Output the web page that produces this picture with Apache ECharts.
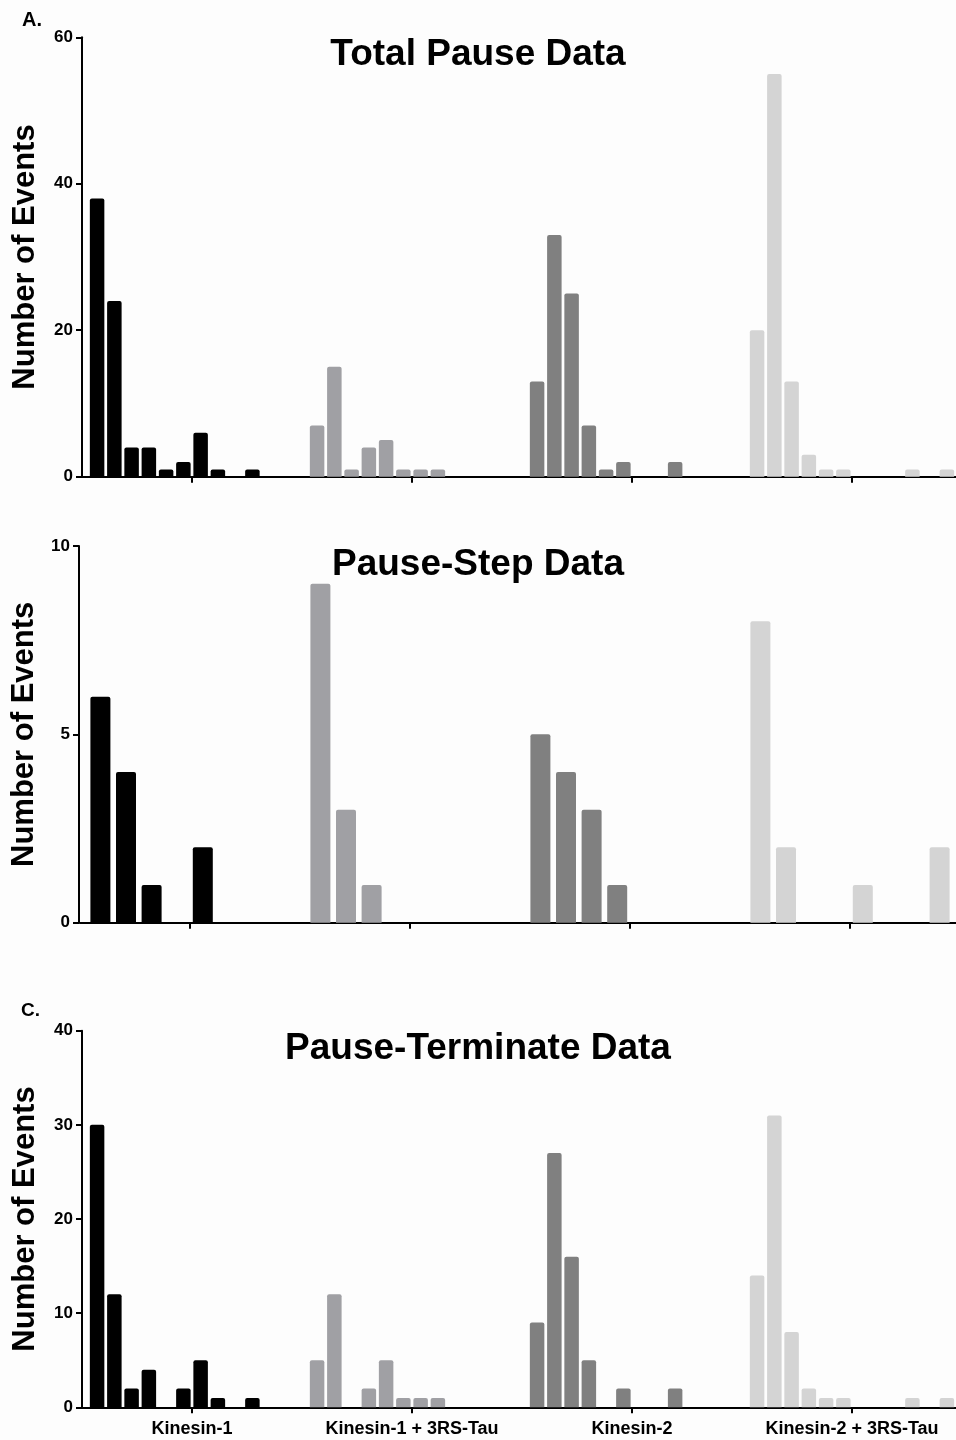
<!DOCTYPE html>
<html>
<head>
<meta charset="utf-8">
<script src="https://cdn.jsdelivr.net/npm/echarts@6/dist/echarts.min.js"></script>
<style>
html,body{margin:0;padding:0;background:#fdfdfd;overflow:hidden;}
#chart{width:966px;height:1440px;}
</style>
</head>
<body>
<div id="chart"></div>
<script>
// Categories and colours
const groups = ['Kinesin-1', 'Kinesin-1 + 3RS-Tau', 'Kinesin-2', 'Kinesin-2 + 3RS-Tau'];
const groupColors = ['#000000', '#a0a0a4', '#808080', '#d4d4d4'];

// Panel A: Total Pause Data (12 bins per group)
const totalK1    = [38, 24, 4, 4, 1, 2, 6, 1, 0, 1, 0, 0];
const totalK1Tau = [7, 15, 1, 4, 5, 1, 1, 1, 0, 0, 0, 0];
const totalK2    = [13, 33, 25, 7, 1, 2, 0, 0, 2, 0, 0, 0];
const totalK2Tau = [20, 55, 13, 3, 1, 1, 0, 0, 0, 1, 0, 1];

// Panel B: Pause-Step Data (8 bins per group)
const stepK1    = [6, 4, 1, 0, 2, 0, 0, 0];
const stepK1Tau = [9, 3, 1, 0, 0, 0, 0, 0];
const stepK2    = [5, 4, 3, 1, 0, 0, 0, 0];
const stepK2Tau = [8, 2, 0, 0, 1, 0, 0, 2];

// Panel C: Pause-Terminate Data (12 bins per group)
const termK1    = [30, 12, 2, 4, 0, 2, 5, 1, 0, 1, 0, 0];
const termK1Tau = [5, 12, 0, 2, 5, 1, 1, 1, 0, 0, 0, 0];
const termK2    = [9, 27, 16, 5, 0, 2, 0, 0, 2, 0, 0, 0];
const termK2Tau = [14, 31, 8, 2, 1, 1, 0, 0, 0, 1, 0, 1];

// Axis tick settings
const yMaxA = 60, yStepA = 20;
const yMaxB = 10, yStepB = 5;
const yMaxC = 40, yStepC = 10;

const titles = ['Total Pause Data', 'Pause-Step Data', 'Pause-Terminate Data'];
const yName = 'Number of Events';

const FONT = '"Liberation Sans", Arial, Helvetica, sans-serif';

function makeSeries(idx, arrs, barWidth, barGap) {
  const n = arrs[0].length;
  const out = [];
  for (let i = 0; i < n; i++) {
    out.push({
      type: 'bar',
      xAxisIndex: idx,
      yAxisIndex: idx,
      barWidth: barWidth,
      barGap: barGap,
      silent: true,
      itemStyle: { borderRadius: [2, 2, 0, 0] },
      data: arrs.map((a, g) => ({ value: a[i], itemStyle: { color: groupColors[g] } }))
    });
  }
  return out;
}

function xAxis(idx, showLabels) {
  return {
    type: 'category',
    gridIndex: idx,
    data: groups,
    axisLine: { lineStyle: { color: '#000', width: 2 } },
    axisTick: { show: true, alignWithLabel: true, interval: 0, length: 6, lineStyle: { color: '#000', width: 2 } },
    axisLabel: {
      show: showLabels,
      interval: 0,
      margin: 13,
      color: '#000',
      fontSize: 18,
      fontWeight: 'bold',
      fontFamily: FONT
    },
    splitLine: { show: false }
  };
}

function yAxis(idx, max, step, nameGap, offset) {
  return {
    type: 'value',
    gridIndex: idx,
    min: 0,
    max: max,
    interval: step,
    offset: offset || 0,
    name: yName,
    nameLocation: 'middle',
    nameGap: nameGap,
    nameTextStyle: { color: '#000', fontSize: 31, fontWeight: 'bold', fontFamily: FONT },
    axisLine: { show: true, lineStyle: { color: '#000', width: 2 } },
    axisTick: { show: true, length: 6, lineStyle: { color: '#000', width: 2 } },
    axisLabel: { color: '#000', fontSize: 17, fontWeight: 'bold', fontFamily: FONT, margin: 9 },
    splitLine: { show: false }
  };
}

function titleText(text, cy) {
  return {
    type: 'text',
    x: 478,
    y: cy,
    z: 100,
    style: {
      text: text,
      fill: '#000',
      font: 'bold 37px ' + FONT,
      align: 'center',
      verticalAlign: 'middle',
      textAlign: 'center',
      textVerticalAlign: 'middle'
    }
  };
}

const chart = echarts.init(document.getElementById('chart'), null, { renderer: 'canvas' });

const option = {
  backgroundColor: '#fdfdfd',
  animation: false,
  graphic: [
    titleText(titles[0], 55),
    titleText(titles[1], 565),
    titleText(titles[2], 1049),
    { type: 'text', left: 22, top: 10, style: { text: 'A.', fill: '#000', font: 'bold 20px ' + FONT } },
    { type: 'text', left: 21, top: 1001, style: { text: 'C.', fill: '#000', font: 'bold 19px ' + FONT } }
  ],
  grid: [
    { left: 82, top: 37.3, width: 880, height: 439.4 },
    { left: 80, top: 546, width: 880, height: 376.7 },
    { left: 82, top: 1030.7, width: 880, height: 376.6 }
  ],
  xAxis: [xAxis(0, false), xAxis(1, false), xAxis(2, true)],
  yAxis: [
    yAxis(0, yMaxA, yStepA, 41),
    yAxis(1, yMaxB, yStepB, 38, 1),
    yAxis(2, yMaxC, yStepC, 41)
  ],
  series: [].concat(
    makeSeries(0, [totalK1, totalK1Tau, totalK2, totalK2Tau], 14.5, '19%'),
    makeSeries(1, [stepK1, stepK1Tau, stepK2, stepK2Tau], 20, '28%'),
    makeSeries(2, [termK1, termK1Tau, termK2, termK2Tau], 14.5, '19%')
  )
};

chart.setOption(option);
</script>
</body>
</html>
